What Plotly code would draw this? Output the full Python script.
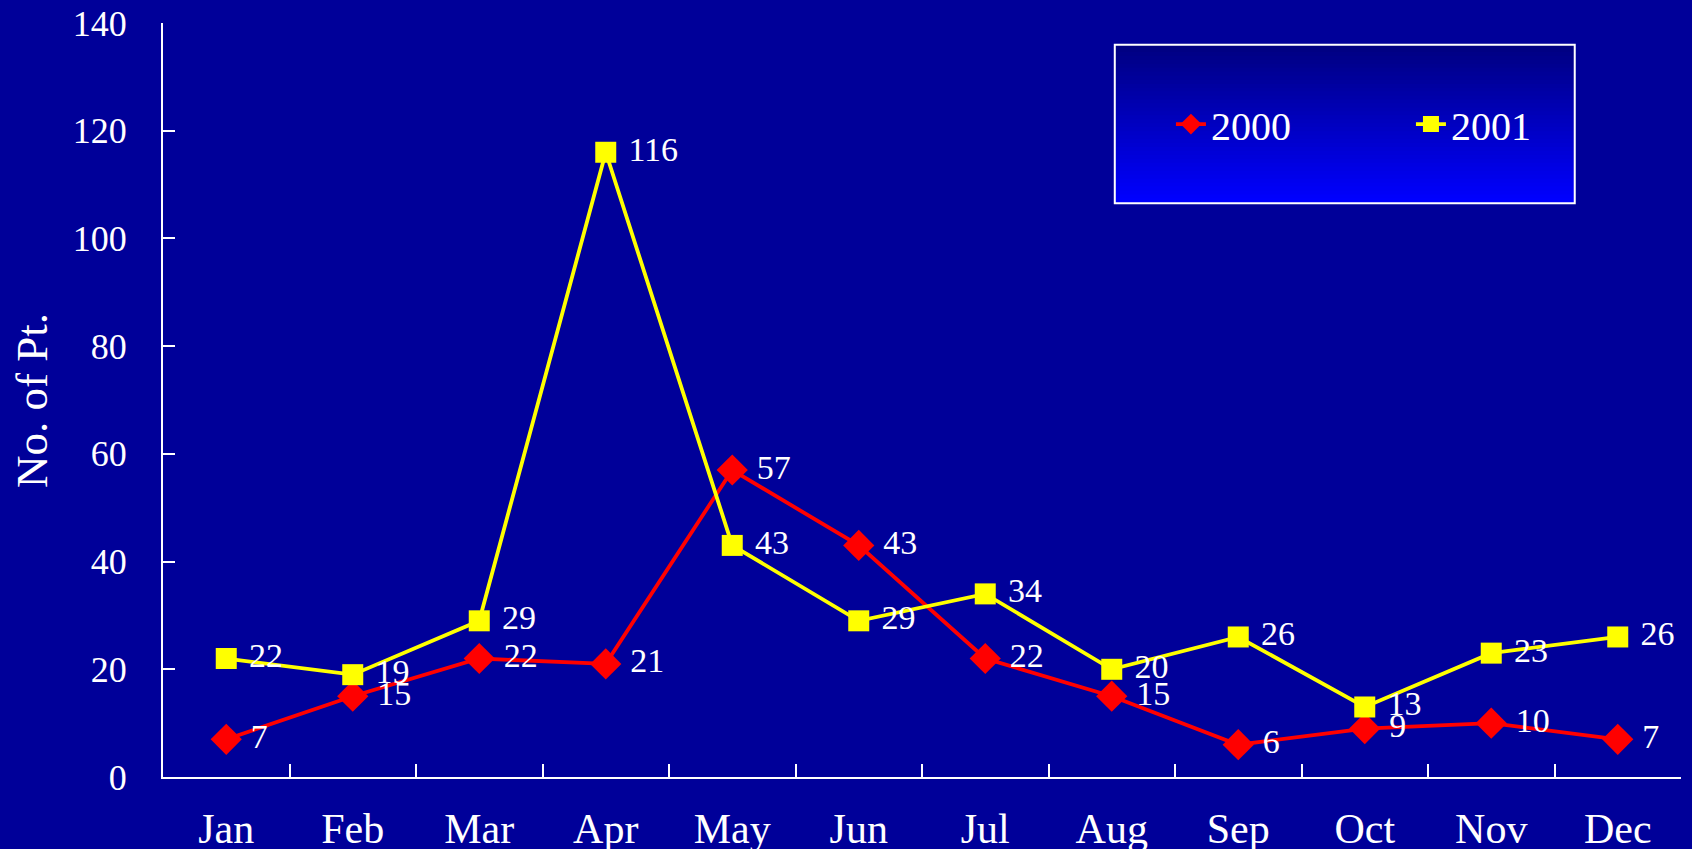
import plotly.graph_objects as go

months = ["Jan", "Feb", "Mar", "Apr", "May", "Jun", "Jul", "Aug", "Sep", "Oct", "Nov", "Dec"]
y2000 = [7, 15, 22, 21, 57, 43, 22, 15, 6, 9, 10, 7]
y2001 = [22, 19, 29, 116, 43, 29, 34, 20, 26, 13, 23, 26]
y_ticks = [0, 20, 40, 60, 80, 100, 120, 140]

BG = "#000099"
SERIF = "Liberation Serif, Times New Roman, serif"

fig = go.Figure()
fig.add_trace(go.Scatter(
    x=months, y=y2000, name="2000", mode="lines+markers+text",
    line=dict(color="#FF0000", width=3.8),
    marker=dict(symbol="diamond", size=24, color="#FF0000"),
    text=[" " + str(v) for v in y2000], textposition="middle right",
    textfont=dict(family=SERIF, size=34, color="white"),
))
fig.add_trace(go.Scatter(
    x=months, y=y2001, name="2001", mode="lines+markers+text",
    line=dict(color="#FFFF00", width=3.8),
    marker=dict(symbol="square", size=21, color="#FFFF00"),
    text=[" " + str(v) for v in y2001], textposition="middle right",
    textfont=dict(family=SERIF, size=34, color="white"),
))

# legend box with vertical gradient (dark navy top -> bright blue bottom)
lx0, lx1 = 0.627, 0.930
ly0, ly1 = 0.761, 0.971
n = 40
shapes = []
for i in range(n):
    t = i / (n - 1)
    b = int(round(128 + (255 - 128) * t))
    ya = ly1 - (ly1 - ly0) * i / n
    yb = ly1 - (ly1 - ly0) * (i + 1) / n
    shapes.append(dict(type="rect", xref="paper", yref="paper",
                       x0=lx0, x1=lx1, y0=yb, y1=ya + 0.001,
                       fillcolor=f"rgb(0,0,{b})", line=dict(width=0), layer="below"))
shapes.append(dict(type="rect", xref="paper", yref="paper",
                   x0=lx0, x1=lx1, y0=ly0, y1=ly1,
                   fillcolor="rgba(0,0,0,0)", line=dict(color="white", width=2), layer="below"))

fig.update_layout(
    width=1692, height=849,
    paper_bgcolor=BG, plot_bgcolor=BG,
    margin=dict(l=163, r=11, t=23, b=72, autoexpand=False),
    showlegend=True,
    legend=dict(orientation="h", x=0.664, y=0.866, xanchor="left", yanchor="middle",
                bgcolor="rgba(0,0,0,0)", font=dict(family=SERIF, size=40, color="white"),
                entrywidth=195, entrywidthmode="pixels", itemsizing="trace"),
    shapes=shapes,
    xaxis=dict(type="category", range=[-0.5, 11.5], showgrid=False, zeroline=False,
               showline=True, linecolor="white", linewidth=2,
               ticks="inside", ticklen=13, tickwidth=2, tickcolor="white",
               tickson="boundaries", ticklabelstandoff=14,
               tickfont=dict(family=SERIF, size=42, color="white")),
    yaxis=dict(range=[0, 140], tickvals=y_ticks, showgrid=False, zeroline=False,
               showline=True, linecolor="white", linewidth=2,
               ticks="inside", ticklen=12, tickwidth=2, tickcolor="white",
               ticklabelstandoff=27,
               tickfont=dict(family=SERIF, size=36, color="white")),
    annotations=[dict(text="No. of Pt.", xref="paper", yref="paper", x=-0.0863, y=0.5,
                      xanchor="center", yanchor="middle", textangle=-90, showarrow=False,
                      font=dict(family=SERIF, size=45, color="white"))],
)

fig.write_html("out.html")
